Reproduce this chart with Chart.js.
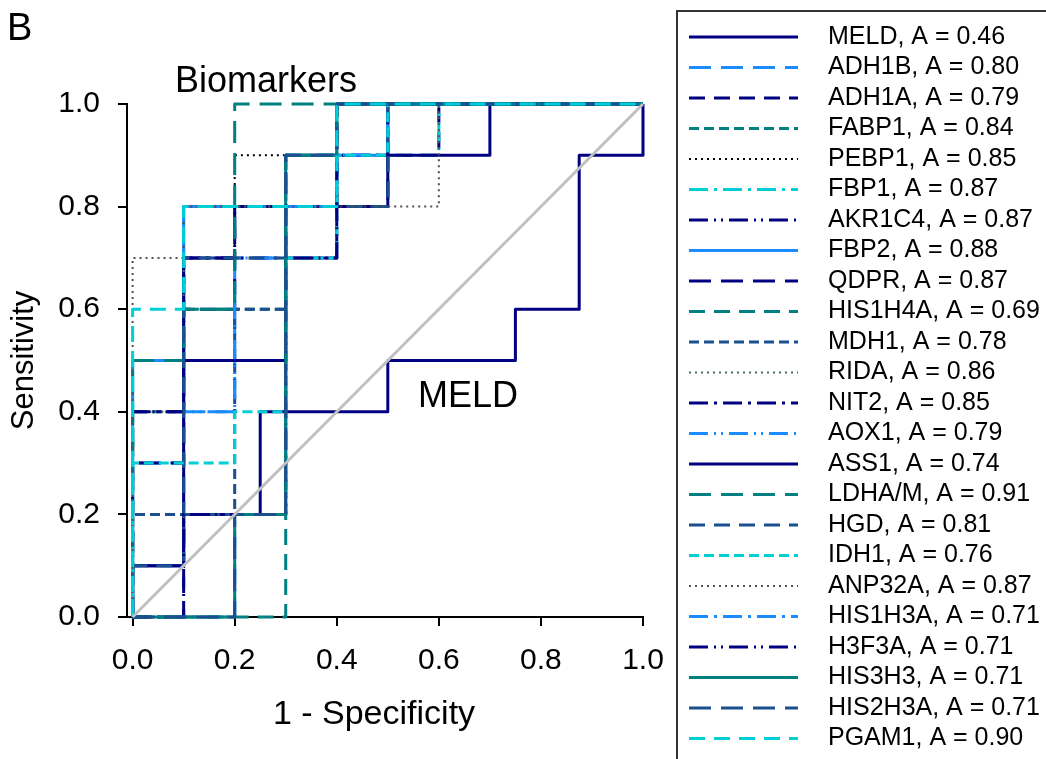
<!DOCTYPE html>
<html>
<head>
<title>ROC - Biomarkers vs MELD</title>
<script src="https://cdn.jsdelivr.net/npm/chart.js"></script>
<style>
  body { margin: 0; background: #fff; }
  #wrap { position: relative; width: 1046px; height: 759px; }
</style>
</head>
<body>
<div id="wrap"><canvas id="rocChart" width="1046" height="759"></canvas></div>
<script>
// series in legend order, with area under curve
const names = ['MELD', 'ADH1B', 'ADH1A', 'FABP1', 'PEBP1', 'FBP1', 'AKR1C4', 'FBP2',
  'QDPR', 'HIS1H4A', 'MDH1', 'RIDA', 'NIT2', 'AOX1', 'ASS1', 'LDHA/M', 'HGD', 'IDH1',
  'ANP32A', 'HIS1H3A', 'H3F3A', 'HIS3H3', 'HIS2H3A', 'PGAM1'];
const aucs = [0.46, 0.80, 0.79, 0.84, 0.85, 0.87, 0.87, 0.88, 0.87, 0.69, 0.78, 0.86,
  0.85, 0.79, 0.74, 0.91, 0.81, 0.76, 0.87, 0.71, 0.71, 0.71, 0.71, 0.90];

// ROC step corners: 1 - specificity
const fpr = [
  [0, 0, 0.1, 0.1, 0.25, 0.25, 0.5, 0.5, 0.75, 0.75, 0.875, 0.875, 1, 1],
  [0, 0, 0.1, 0.1, 0.2, 0.2, 0.3, 0.3, 0.5, 0.5, 1],
  [0, 0.1, 0.1, 0.2, 0.2, 0.5, 0.5, 0.6, 0.6, 1],
  [0, 0, 0.1, 0.1, 0.3, 0.3, 0.4, 0.4, 1],
  [0, 0, 0.1, 0.1, 0.2, 0.2, 0.5, 0.5, 1],
  [0, 0, 0.1, 0.1, 0.4, 0.4, 0.6, 0.6, 1],
  [0, 0, 0.1, 0.1, 0.2, 0.2, 0.4, 0.4, 1],
  [0, 0, 0.1, 0.1, 0.4, 0.4, 0.5, 0.5, 1],
  [0, 0, 0.1, 0.1, 0.2, 0.2, 0.3, 0.3, 0.4, 0.4, 1],
  [0, 0.3, 0.3, 0.4, 0.4, 1],
  [0, 0, 0.2, 0.2, 0.3, 0.3, 0.5, 0.5, 1],
  [0, 0, 0.1, 0.1, 0.5, 0.5, 1],
  [0, 0, 0.1, 0.1, 0.3, 0.3, 0.4, 0.4, 0.5, 0.5, 1],
  [0, 0, 0.1, 0.1, 0.2, 0.2, 0.3, 0.3, 0.4, 0.4, 0.5, 0.5, 1],
  [0, 0, 0.1, 0.1, 0.3, 0.3, 0.4, 0.4, 0.5, 0.5, 0.7, 0.7, 1],
  [0, 0, 0.1, 0.1, 0.2, 0.2, 1],
  [0, 0, 0.1, 0.1, 0.3, 0.3, 0.5, 0.5, 1],
  [0, 0, 0.2, 0.2, 0.3, 0.3, 0.4, 0.4, 0.5, 0.5, 1],
  [0, 0, 0.1, 0.1, 0.6, 0.6, 1],
  [0, 0.2, 0.2, 0.3, 0.3, 0.4, 0.4, 1],
  [0, 0.1, 0.1, 0.3, 0.3, 0.4, 0.4, 1],
  [0, 0.2, 0.2, 0.3, 0.3, 0.4, 0.4, 1],
  [0, 0.2, 0.2, 0.3, 0.3, 0.4, 0.4, 1],
  [0, 0, 0.1, 0.1, 0.4, 0.4, 1]
];
// ROC step corners: sensitivity
const tpr = [
  [0, 0.1, 0.1, 0.2, 0.2, 0.4, 0.4, 0.5, 0.5, 0.6, 0.6, 0.9, 0.9, 1],
  [0, 0.3, 0.3, 0.4, 0.4, 0.7, 0.7, 0.8, 0.8, 1, 1],
  [0, 0, 0.6, 0.6, 0.8, 0.8, 0.9, 0.9, 1, 1],
  [0, 0.4, 0.4, 0.6, 0.6, 0.8, 0.8, 1, 1],
  [0, 0.1, 0.1, 0.7, 0.7, 0.9, 0.9, 1, 1],
  [0, 0.5, 0.5, 0.8, 0.8, 0.9, 0.9, 1, 1],
  [0, 0.4, 0.4, 0.7, 0.7, 0.8, 0.8, 1, 1],
  [0, 0.5, 0.5, 0.8, 0.8, 0.9, 0.9, 1, 1],
  [0, 0.3, 0.3, 0.7, 0.7, 0.8, 0.8, 0.9, 0.9, 1, 1],
  [0, 0, 0.9, 0.9, 1, 1],
  [0, 0.2, 0.2, 0.6, 0.6, 0.9, 0.9, 1, 1],
  [0, 0.4, 0.4, 0.8, 0.8, 1, 1],
  [0, 0.4, 0.4, 0.7, 0.7, 0.8, 0.8, 0.9, 0.9, 1, 1],
  [0, 0.1, 0.1, 0.4, 0.4, 0.7, 0.7, 0.8, 0.8, 0.9, 0.9, 1, 1],
  [0, 0.1, 0.1, 0.5, 0.5, 0.7, 0.7, 0.8, 0.8, 0.9, 0.9, 1, 1],
  [0, 0.5, 0.5, 0.6, 0.6, 1, 1],
  [0, 0.1, 0.1, 0.7, 0.7, 0.8, 0.8, 1, 1],
  [0, 0.3, 0.3, 0.4, 0.4, 0.7, 0.7, 0.9, 0.9, 1, 1],
  [0, 0.7, 0.7, 0.8, 0.8, 1, 1],
  [0, 0, 0.2, 0.2, 0.9, 0.9, 1, 1],
  [0, 0, 0.2, 0.2, 0.7, 0.7, 1, 1],
  [0, 0, 0.2, 0.2, 0.9, 0.9, 1, 1],
  [0, 0, 0.2, 0.2, 0.9, 0.9, 1, 1],
  [0, 0.6, 0.6, 0.8, 0.8, 1, 1]
];
// reference diagonal
const diagX = [0, 1];
const diagY = [0, 1];
const xTicks = [0, 0.2, 0.4, 0.6, 0.8, 1.0];
const yTicks = [0, 0.2, 0.4, 0.6, 0.8, 1.0];

// line styles (Excel-like)
const navy = '#000080', blue = '#1a8cff', teal = '#008080', cyan = '#00cfd6', steel = '#1b4f8f';
const colors = [navy, blue, navy, teal, '#000000', cyan, navy, blue, navy, teal, steel, '#4a6a6a',
  navy, blue, navy, teal, steel, cyan, '#505050', blue, navy, teal, steel, cyan];
const longDash = [22, 10], dash = [16, 9], shortDash = [10, 5], dot = [2, 4];
const dashDot = [19, 6, 3, 6], dashDotDot = [19, 6, 2, 5, 2, 6];
const dashes = [[], longDash, dash, shortDash, dot, dashDot, dashDotDot, [], longDash, dash,
  shortDash, dot, dashDot, dashDotDot, [], longDash, dash, shortDash, dot, dashDot, dashDotDot,
  [], longDash, dash];

const FONT = '"Liberation Sans", Arial, sans-serif';

let datasets = names.map((n, i) => ({
  label: n + ', A = ' + aucs[i].toFixed(2),
  data: fpr[i].map((x, k) => ({x: x, y: tpr[i][k]})),
  borderColor: colors[i],
  borderWidth: dashes[i] === dot ? 2 : 3,
  borderDash: dashes[i],
  borderJoinStyle: 'round',
  pointRadius: 0,
  fill: false,
  tension: 0,
  clip: 10,
  order: -i
}));
datasets.push({
  label: 'diagonal',
  data: diagX.map((x, k) => ({x: x, y: diagY[k]})),
  borderColor: '#c0c0c0',
  borderWidth: 3,
  pointRadius: 0,
  fill: false,
  clip: 10,
  order: -100
});

// legend box + free text labels
const extras = {
  id: 'extras',
  afterDraw(chart) {
    const ctx = chart.ctx;
    ctx.save();
    ctx.strokeStyle = '#333';
    ctx.lineWidth = 2;
    ctx.strokeRect(677, 11, 420, 800);
    ctx.font = '25px ' + FONT;
    ctx.textBaseline = 'middle';
    ctx.fillStyle = '#000';
    names.forEach((n, i) => {
      const ds = chart.data.datasets[i];
      const y = 37 + i * 30.5;
      ctx.beginPath();
      ctx.setLineDash(ds.borderDash);
      ctx.strokeStyle = ds.borderColor;
      ctx.lineWidth = ds.borderWidth;
      ctx.moveTo(689, y);
      ctx.lineTo(798, y);
      ctx.stroke();
      ctx.setLineDash([]);
      ctx.fillText(ds.label, 828, y);
    });
    ctx.font = '34px ' + FONT;
    ctx.textAlign = 'center';
    ctx.fillText('1 - Specificity', 374, 715);
    ctx.textAlign = 'left';
    ctx.textBaseline = 'alphabetic';
    ctx.font = '38px ' + FONT;
    ctx.fillText('B', 7, 40);
    ctx.font = '36px ' + FONT;
    ctx.fillText('Biomarkers', 175, 92);
    ctx.fillText('MELD', 418, 407);
    ctx.restore();
  }
};

new Chart(document.getElementById('rocChart'), {
  type: 'line',
  data: {datasets: datasets},
  plugins: [extras],
  options: {
    responsive: false,
    animation: false,
    events: [],
    layout: {padding: {left: 0, top: 104, right: 403, bottom: 0}},
    plugins: {legend: {display: false}, tooltip: {enabled: false}},
    scales: {
      x: {
        type: 'linear',
        min: -0.011,
        max: 1.0,
        afterBuildTicks: s => { s.ticks = xTicks.map(v => ({value: v})); },
        afterFit: s => { s.height = 142; },
        ticks: {color: '#000', font: {family: FONT, size: 30}, padding: 17,
          callback: v => v.toFixed(1), maxRotation: 0},
        grid: {drawOnChartArea: false, drawTicks: true, tickLength: 9, color: '#000', lineWidth: 2},
        border: {color: '#000', width: 2}
      },
      y: {
        min: 0,
        max: 1.0,
        afterBuildTicks: s => { s.ticks = yTicks.map(v => ({value: v})); },
        afterFit: s => { s.width = 127; },
        ticks: {color: '#000', font: {family: FONT, size: 30}, padding: 18,
          callback: v => v.toFixed(1)},
        grid: {drawOnChartArea: false, drawTicks: true, tickLength: 9, color: '#000', lineWidth: 2},
        border: {color: '#000', width: 2},
        title: {display: true, text: 'Sensitivity', color: '#000',
          font: {family: FONT, size: 31}, padding: {top: 6, bottom: 0}}
      }
    }
  }
});
</script>
</body>
</html>
